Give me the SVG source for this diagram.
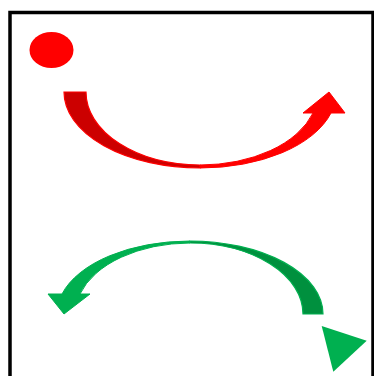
<svg xmlns="http://www.w3.org/2000/svg" width="374" height="376" viewBox="0 0 374 376">
<style>
.red{fill:#FF0000;stroke:#FF0000;stroke-width:1}
.redback{fill:#CC0000;stroke:#FF0000;stroke-width:1.2}
.green{fill:#00B050;stroke:#00B050;stroke-width:1}
.greenback{fill:#00903E;stroke:#00B050;stroke-width:1.2}
</style>
<rect x="10" y="12.5" width="363" height="400" fill="#FFFFFF" stroke="#000000" stroke-width="3.5"/>
<g id="red-dot">
<ellipse cx="51.5" cy="50" rx="22" ry="18" fill="#FF0000"/>
</g>
<g id="connectors">
<g id="red-arrow">
<path class="red" d="M200,168 A136,76 0 0 0 331,113 L345,113 L329,92 L303,113 L313,113 A118,73 0 0 1 200,165 Z"/>
<path class="redback" d="M64,92 L86,92 A114,73 0 0 0 200,165 L200,168 A136,76 0 0 1 64,92 Z"/>
</g>
<g id="green-arrow">
<path class="green" d="M190,241 A133,73 0 0 0 62,294 L48,294 L64,314 L90,294 L80,294 A115,71 0 0 1 190,243 Z"/>
<path class="greenback" d="M323,314 L303,314 A113,71 0 0 0 190,243 L190,241 A133,73 0 0 1 323,314 Z"/>
</g>
</g>
<g id="green-triangle">
<polygon points="321.7,326 366.7,340.7 333.3,371.7" fill="#00B050"/>
</g>
</svg>
